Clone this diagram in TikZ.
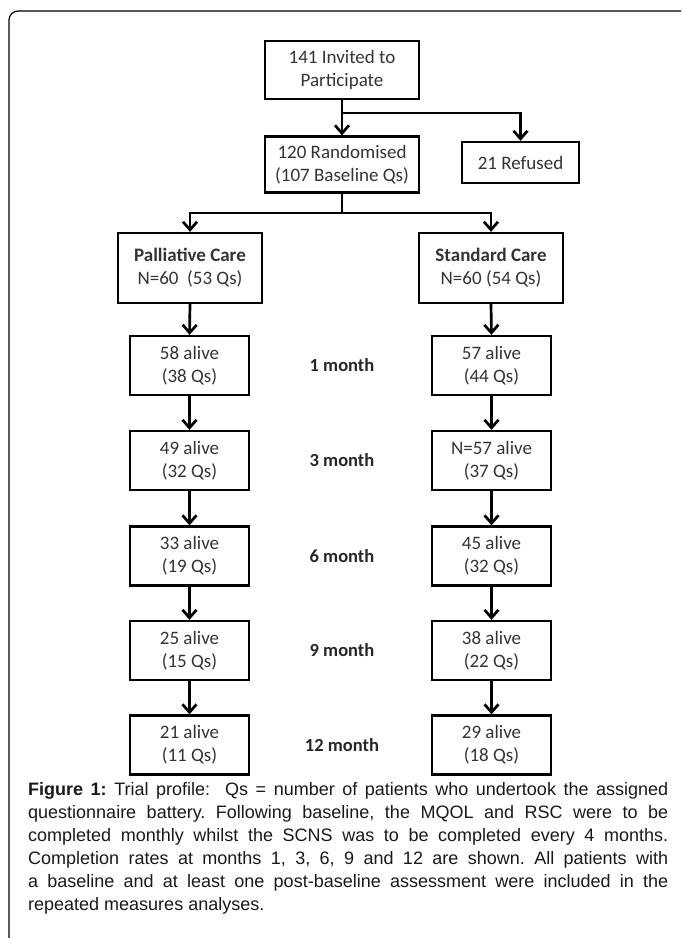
\documentclass[tikz,border=0pt]{standalone}
\usepackage{fontspec}
\setmainfont{Liberation Sans}
\newfontfamily\boxfont{Carlito}
\usetikzlibrary{arrows.meta}
\usetikzlibrary{positioning}
\definecolor{boxtext}{gray}{0.2}
\tikzset{box/.style = {draw, line width = 2.3, inner sep = 0, align = center, text = boxtext, font = \boxfont\fontsize{19}{23}\selectfont}}
\tikzset{rowbox/.style = {box, minimum width = 119, minimum height = 59}}
\tikzset{arr/.style = {line width = 2.7, -{Straight Barb[length=8pt, width=14pt, line width=2.7pt]}}}
\tikzset{month/.style = {text = black!85, font = \boxfont\bfseries\fontsize{18.5}{20}\selectfont}}

\begin{document}
\frenchspacing
\begin{tikzpicture}[x = 1pt, y = -1pt]
  \useasboundingbox (0, 0) rectangle (681, 938);
  \begin{scope}
    \clip (0, 0) rectangle (681, 938);
    \draw [line width = 1.2, rounded corners = 9] (9, 11) rectangle (720, 990);
  \end{scope}

  % top of the profile
  \node [box, minimum width = 154, minimum height = 58] (invite) at (342, 70) {141 Invited to\\Participate};
  \node [box, minimum width = 154, minimum height = 56] (random) at (342, 164.5) {120 Randomised\\(107 Baseline Qs)};
  \node [box, minimum width = 117, minimum height = 41] (refused) at (520.5, 162.5) {21 Refused};
  \coordinate (split) at (342, 113);
  \coordinate (fork) at (342, 213);
  \draw [arr] (invite.south) -- (random.north);
  \draw [arr] (split) -| (refused.north);

  % the two arms
  \node [box, minimum width = 144, minimum height = 70] (palliative) at (190, 268) {\textbf{Palliative Care}\\N=60\ \ (53 Qs)};
  \node [box, minimum width = 144, minimum height = 70] (standard) at (491, 268) {\textbf{Standard Care}\\N=60 (54 Qs)};
  \draw [line width = 2.7] (random.south) -- (fork);
  \draw [arr] (fork) -| (palliative.north);
  \draw [arr] (fork) -| (standard.north);

  % follow-up
  \foreach \i/\y/\la/\lq/\ra/\rq/\m in {1/365.5/58 alive/38 Qs/57 alive/44 Qs/1 month,
                                         2/460.5/49 alive/32 Qs/N=57 alive/37 Qs/3 month,
                                         3/556/33 alive/19 Qs/45 alive/32 Qs/6 month,
                                         4/650.5/25 alive/15 Qs/38 alive/22 Qs/9 month,
                                         5/745/21 alive/11 Qs/29 alive/18 Qs/12 month} {
    \node [rowbox] (pc\i) at (189.5, \y) {\la\\(\lq)};
    \node [rowbox] (sc\i) at (491.5, \y) {\ra\\(\rq)};
    \node [month] (m\i) at (342, \y) {\m};
  }
  \draw [arr] (palliative.south) -- (pc1.north);
  \draw [arr] (standard.south) -- (sc1.north);
  \foreach \i [remember = \i as \j (initially 1)] in {2,3,4,5} {
    \draw [arr] (pc\j.south) -- (pc\i.north);
    \draw [arr] (sc\j.south) -- (sc\i.north);
  }

  \node [anchor = north west, inner sep = 0, text width = 640, align = justify, text = black!90,
         font = \fontsize{18}{23}\selectfont] (caption) at (28, 782)
    {\textbf{Figure 1:} Trial profile:\ \ Qs = number of patients who undertook the assigned\linebreak
     questionnaire battery. Following baseline, the MQOL and RSC were to be\linebreak
     completed monthly whilst the SCNS was to be completed every 4 months.\linebreak
     Completion rates at months 1, 3, 6, 9 and 12 are shown. All patients with\linebreak
     a baseline and at least one post-baseline assessment were included in the\linebreak
     repeated measures analyses.};
\end{tikzpicture}
\end{document}
